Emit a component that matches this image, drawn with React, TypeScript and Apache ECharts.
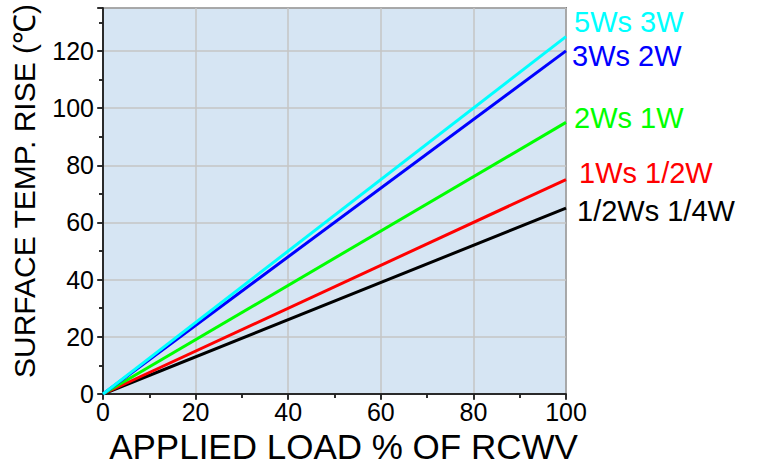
import React, { useEffect, useRef } from "react";
import * as echarts from "echarts";

const loads = [0, 100];
const seriesNames = ["5Ws 3W", "3Ws 2W", "2Ws 1W", "1Ws 1/2W", "1/2Ws 1/4W"];
const seriesColors = ["#00ffff", "#0000ff", "#00ff00", "#ff0000", "#000000"];
const riseCyan = [0, 125];
const riseBlue = [0, 120];
const riseGreen = [0, 95];
const riseRed = [0, 75];
const riseBlack = [0, 65];
const labelOffsets = [
  [0, -15],
  [-2, 5],
  [0, -4],
  [5, -7],
  [3, 3],
];

const FONT = "'Liberation Sans', Arial, sans-serif";

export default function App() {
  const ref = useRef<HTMLDivElement>(null);
  useEffect(() => {
    if (!ref.current) return;
    const chart = echarts.init(ref.current, undefined, { renderer: "svg" });
    const values = [riseCyan, riseBlue, riseGreen, riseRed, riseBlack];
    const series = values.map((v, i) => ({
      name: seriesNames[i],
      type: "line",
      xAxisIndex: 0,
      yAxisIndex: 0,
      data: loads.map((x, j) => [x, v[j]]),
      symbol: "none",
      lineStyle: { color: seriesColors[i], width: 3 },
      z: 10 - i,
      endLabel: {
        show: true,
        formatter: seriesNames[i],
        color: seriesColors[i],
        fontSize: 29,
        fontFamily: FONT,
        distance: 8,
        offset: labelOffsets[i],
      },
    }));
    const axisLine = { show: true, lineStyle: { color: "#222", width: 1.5 } };
    chart.setOption({
      animation: false,
      backgroundColor: "#ffffff",
      grid: {
        left: 103,
        top: 8,
        width: 463,
        height: 386,
        outerBoundsMode: "none",
        containLabel: false,
        show: true,
        backgroundColor: "#d6e5f3",
        borderColor: "#222",
        borderWidth: 1.5,
      },
      xAxis: [
        {
          type: "value",
          position: "bottom",
          min: 0,
          max: 100,
          interval: 20,
          axisLine,
          axisTick: { show: true, inside: false, length: 6, lineStyle: { color: "#222", width: 1.5 } },
          minorTick: { show: true, splitNumber: 2, length: 4, lineStyle: { color: "#222", width: 1.5 } },
          splitLine: { show: true, lineStyle: { color: "#c4c4c4", width: 1.5 } },
          axisLabel: { fontSize: 25, color: "#000", fontFamily: FONT, margin: 5 },
          name: "APPLIED LOAD % OF RCWV",
          nameLocation: "middle",
          nameGap: 29,
          nameTextStyle: {
            fontSize: 35,
            lineHeight: 35,
            color: "#000",
            fontFamily: FONT,
            padding: [0, 0, 0, 18],
          },
        },
        {
          type: "value",
          position: "top",
          min: 0,
          max: 100,
          interval: 20,
          axisLine,
          axisTick: { show: true, inside: true, length: 5, lineStyle: { color: "#222", width: 1.5 } },
          minorTick: { show: true, splitNumber: 2, length: 4, lineStyle: { color: "#222", width: 1.5 } },
          splitLine: { show: false },
          axisLabel: { show: false },
        },
      ],
      yAxis: [
        {
          type: "value",
          position: "left",
          min: 0,
          max: 135,
          interval: 20,
          axisLine,
          axisTick: { show: true, inside: false, length: 6, lineStyle: { color: "#222", width: 1.5 } },
          minorTick: { show: true, splitNumber: 2, length: 4, lineStyle: { color: "#222", width: 1.5 } },
          splitLine: { show: true, lineStyle: { color: "#c4c4c4", width: 1.5 } },
          axisLabel: { fontSize: 25, color: "#000", fontFamily: FONT, margin: 9, showMaxLabel: false },
          name: "SURFACE TEMP. RISE (\u2103)",
          nameLocation: "middle",
          nameGap: 64,
          nameTextStyle: { fontSize: 30, color: "#000", fontFamily: FONT, padding: [0, 0, 0, 20] },
        },
        {
          type: "value",
          position: "right",
          min: 0,
          max: 135,
          interval: 20,
          axisLine,
          axisTick: { show: true, inside: true, length: 5, lineStyle: { color: "#222", width: 1.5 } },
          minorTick: { show: true, splitNumber: 2, length: 4, lineStyle: { color: "#222", width: 1.5 } },
          splitLine: { show: false },
          axisLabel: { show: false },
        },
      ],
      series,
    });
    return () => chart.dispose();
  }, []);
  return (
    <div
      ref={ref}
      style={{ position: "fixed", left: 0, top: 0, width: 770, height: 465 }}
    />
  );
}
